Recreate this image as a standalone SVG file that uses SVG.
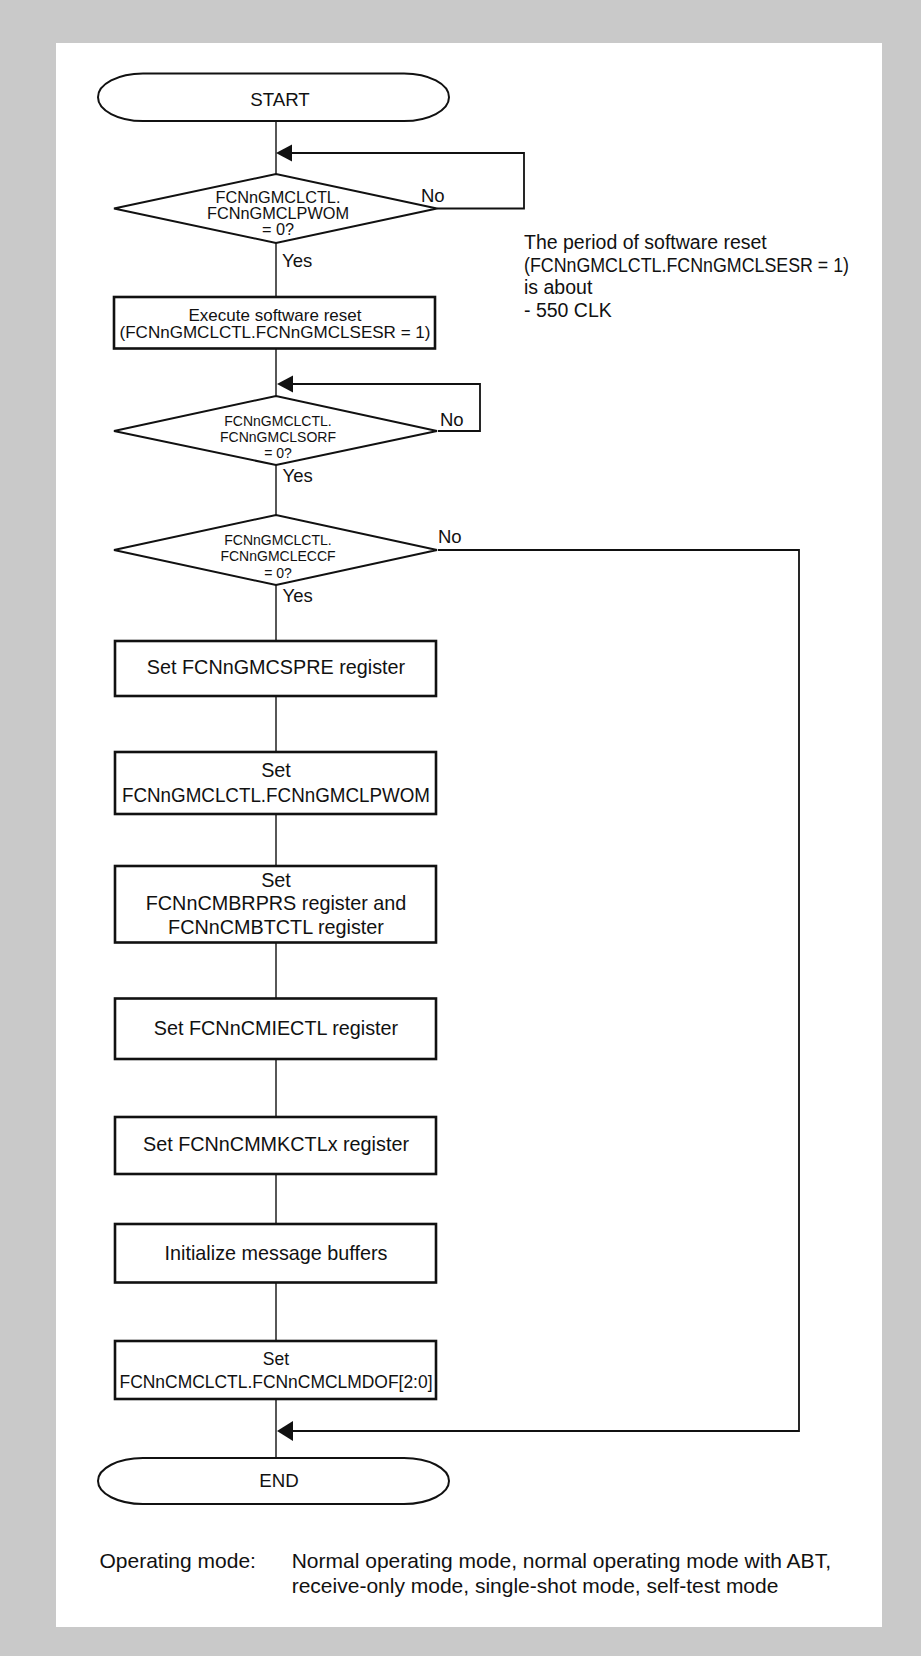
<svg xmlns="http://www.w3.org/2000/svg" width="921" height="1656" viewBox="0 0 921 1656">
<style>
text{font-family:"Liberation Sans",Arial,sans-serif;fill:#111}
.box{fill:#fff;stroke:#111;stroke-width:2.6}
.dia{fill:#fff;stroke:#111;stroke-width:2}
.term{fill:#fff;stroke:#111;stroke-width:2}
.ln{fill:none;stroke:#111;stroke-width:1.4}
.lp{fill:none;stroke:#111;stroke-width:1.8}
.ah{fill:#111}
.bt{font-size:19.8px;text-anchor:middle}
.tt{font-size:18.7px;text-anchor:middle}
.dt{font-size:14px;text-anchor:middle}
.dt1{font-size:16.3px;text-anchor:middle}
.b1{font-size:17px;text-anchor:middle}
.b8{font-size:17.5px;text-anchor:middle}
.lb{font-size:18.5px}
.nt{font-size:19.5px}
.om{font-size:21px}
</style>
<rect x="0" y="0" width="921" height="1656" fill="#c9c9c9"/>
<rect x="56" y="43" width="826" height="1584" fill="#fff"/>
<g id="connectors">
<path class="ln" d="M276,121 V174 M276,243 V297 M276,348 V396 M276,465 V515 M276,585 V641 M276,696 V752 M276,814 V866 M276,942 V998 M276,1059 V1117 M276,1174 V1224 M276,1283 V1341 M276,1399 V1458"/>
<path class="lp" d="M437,208.5 H524 V153 H290"/>
<polygon class="ah" points="276,153 292,144.5 292,161.5"/>
<path class="lp" d="M438,431 H480 V384 H290"/>
<polygon class="ah" points="277,384 293,375.5 293,392.5"/>
<path class="lp" d="M438,550 H799 V1431 H290"/>
<polygon class="ah" points="277,1431 293,1421 293,1441"/>
<text class="lb" x="421" y="201.5">No</text>
<text class="lb" x="282" y="266.5">Yes</text>
<text class="lb" x="440" y="425.5">No</text>
<text class="lb" x="282.5" y="481.5">Yes</text>
<text class="lb" x="438" y="543.3">No</text>
<text class="lb" x="282.5" y="601.5">Yes</text>
</g>
<g id="start">
<path class="term" d="M143,73.5 H404 A45,23.75 0 0 1 404,121 H143 A45,23.75 0 0 1 143,73.5 Z"/>
<text class="tt" x="280" y="105.5">START</text>
</g>
<g id="dec1">
<polygon class="dia" points="114,208.5 276,174 437,208.5 276,243"/>
<text class="dt1" x="278" y="202.5">FCNnGMCLCTL.</text>
<text class="dt1" x="278" y="218.5">FCNnGMCLPWOM</text>
<text class="dt1" x="278" y="234.5">= 0?</text>
</g>
<g id="reset">
<rect class="box" x="114" y="297" width="321" height="51.5" stroke-width="3.2"/>
<text class="b1" x="275" y="320.7">Execute software reset</text>
<text class="b1" x="275" y="337.5" textLength="311" lengthAdjust="spacingAndGlyphs">(FCNnGMCLCTL.FCNnGMCLSESR = 1)</text>
</g>
<g id="dec2">
<polygon class="dia" points="114,431 276,396 437,431 276,465"/>
<text class="dt" x="278" y="425.5">FCNnGMCLCTL.</text>
<text class="dt" x="278" y="442">FCNnGMCLSORF</text>
<text class="dt" x="278" y="458.3">= 0?</text>
</g>
<g id="dec3">
<polygon class="dia" points="114,550 276,515 437,550 276,585"/>
<text class="dt" x="278" y="545">FCNnGMCLCTL.</text>
<text class="dt" x="278" y="561.3">FCNnGMCLECCF</text>
<text class="dt" x="278" y="578">= 0?</text>
</g>
<g id="b2">
<rect class="box" x="115" y="641" width="321" height="55"/>
<text class="bt" x="276" y="674">Set FCNnGMCSPRE register</text>
</g>
<g id="b3">
<rect class="box" x="115" y="752" width="321" height="62"/>
<text class="bt" x="276" y="776.7">Set</text>
<text class="bt" x="276" y="801.7" textLength="308" lengthAdjust="spacingAndGlyphs">FCNnGMCLCTL.FCNnGMCLPWOM</text>
</g>
<g id="b4">
<rect class="box" x="115" y="866" width="321" height="76.5"/>
<text class="bt" x="276" y="886.5">Set</text>
<text class="bt" x="276" y="910.2">FCNnCMBRPRS register and</text>
<text class="bt" x="276" y="933.5">FCNnCMBTCTL register</text>
</g>
<g id="b5">
<rect class="box" x="115" y="998.5" width="321" height="60.5"/>
<text class="bt" x="276" y="1035">Set FCNnCMIECTL register</text>
</g>
<g id="b6">
<rect class="box" x="115" y="1117" width="321" height="57"/>
<text class="bt" x="276" y="1150.7">Set FCNnCMMKCTLx register</text>
</g>
<g id="b7">
<rect class="box" x="115" y="1224" width="321" height="58.5"/>
<text class="bt" x="276" y="1260">Initialize message buffers</text>
</g>
<g id="b8">
<rect class="box" x="115" y="1341" width="321" height="58"/>
<text class="b8" x="276" y="1365">Set</text>
<text class="b8" x="276" y="1388.3" textLength="313" lengthAdjust="spacingAndGlyphs">FCNnCMCLCTL.FCNnCMCLMDOF[2:0]</text>
</g>
<g id="end">
<path class="term" d="M143,1458 H404 A45,23 0 0 1 404,1504 H143 A45,23 0 0 1 143,1458 Z"/>
<text class="tt" x="279" y="1486.5">END</text>
</g>
<g id="note">
<text class="nt" x="524" y="249.3">The period of software reset</text>
<text class="nt" x="524" y="271.7" textLength="325" lengthAdjust="spacingAndGlyphs">(FCNnGMCLCTL.FCNnGMCLSESR = 1)</text>
<text class="nt" x="524" y="294.3">is about</text>
<text class="nt" x="524" y="316.7">- 550 CLK</text>
</g>
<g id="mode">
<text class="om" x="99.5" y="1568.3">Operating mode:</text>
<text class="om" x="291.7" y="1568.3">Normal operating mode, normal operating mode with ABT,</text>
<text class="om" x="291.7" y="1592.7">receive-only mode, single-shot mode, self-test mode</text>
</g>
</svg>
